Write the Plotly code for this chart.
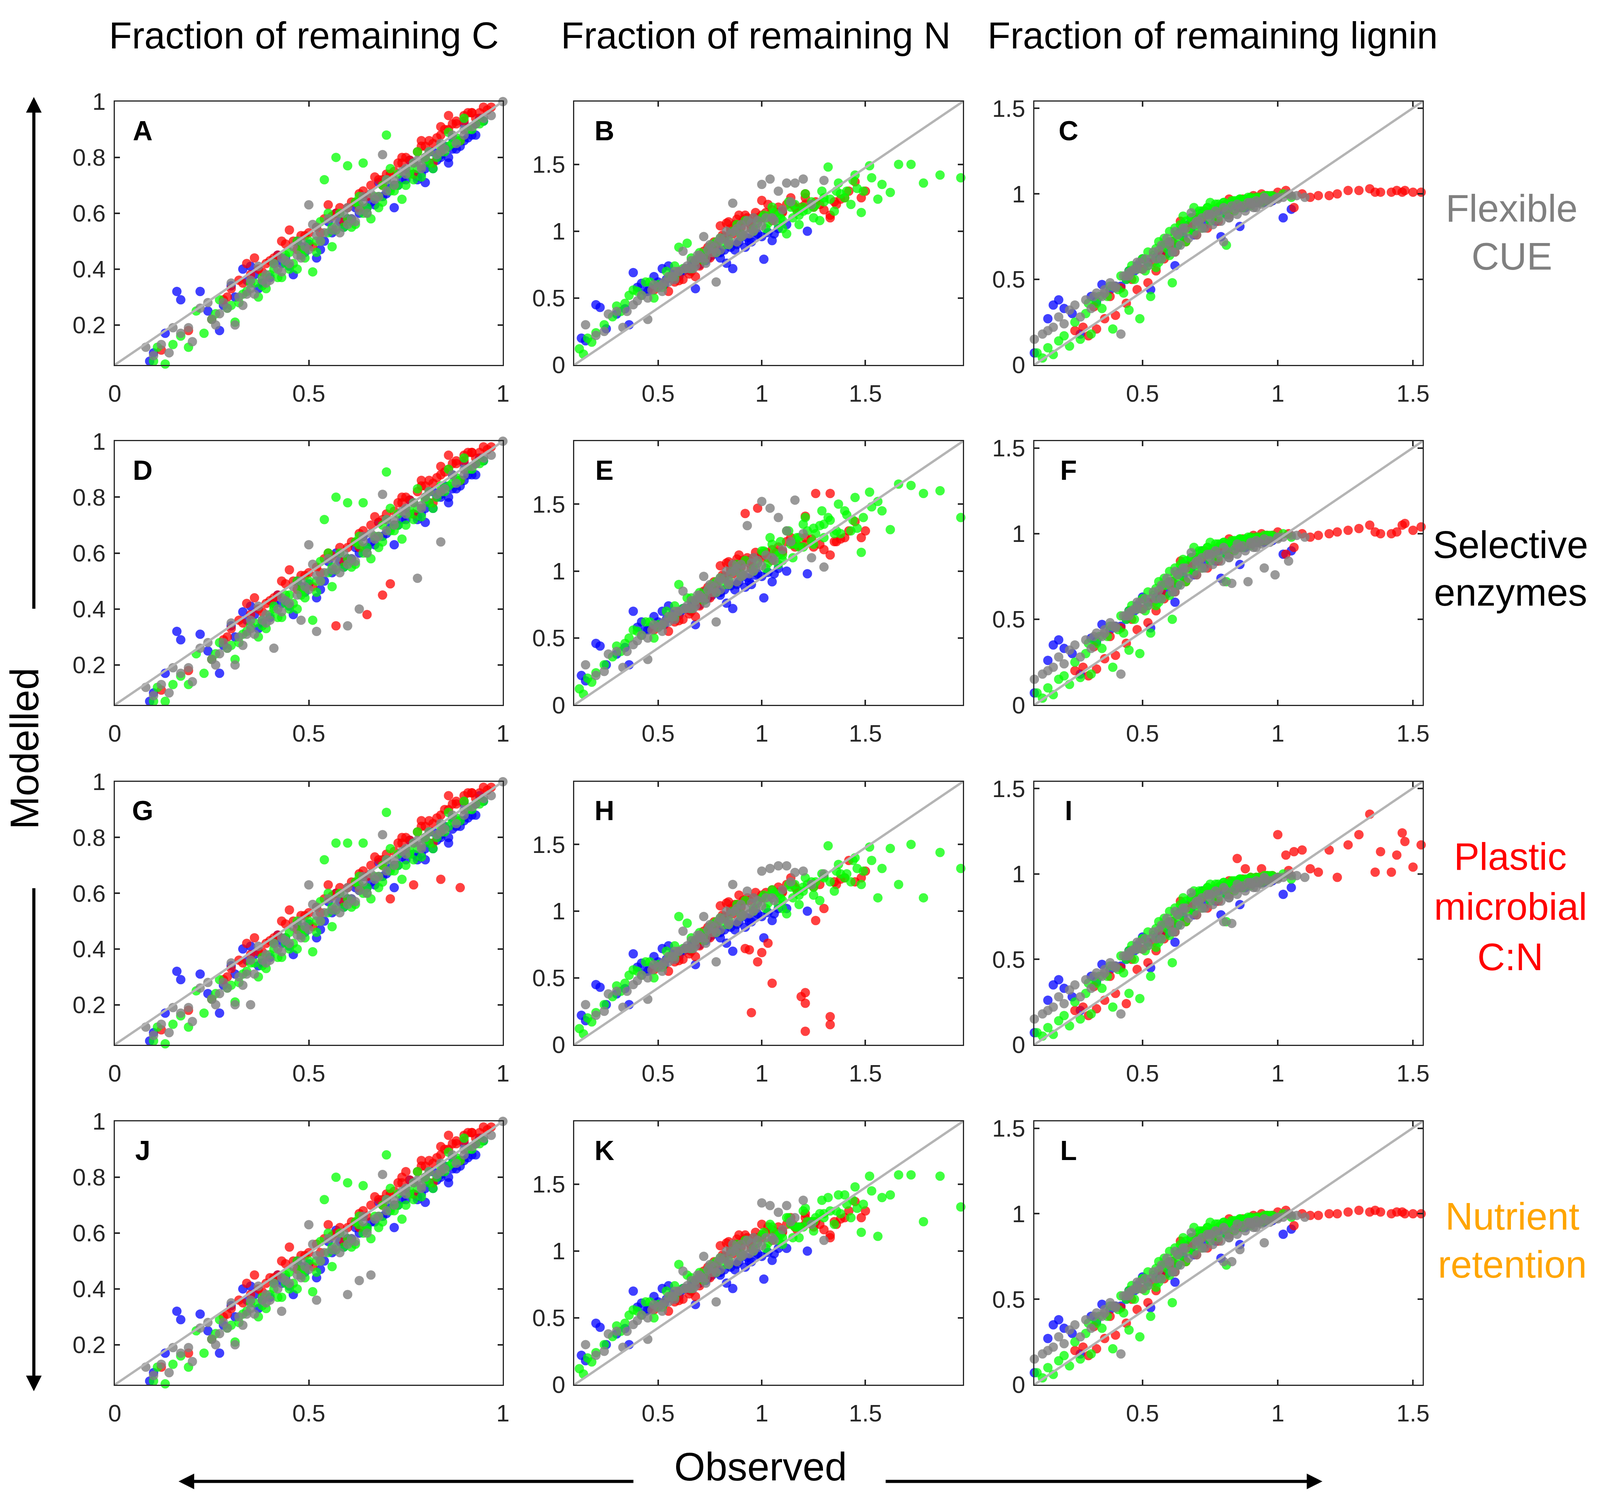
import plotly.graph_objects as go

# ================= DATA =================
# Column 1: fraction of remaining C  (observed x shared by panels A, D, G, J)
obsC_blue = [.09,.10,.13,.16,.17,.22,.24,.27,.30,.33,.35,.37,.40,.42,.44,.46,.48,.50,.52,.55,.57,.59,.62,.64,.66,.68,.70,.72,.74,.76,.78,.80,.82,.84,.86,.87,.89,.90,.92,.94,
             .28,.31,.34,.38,.41,.45,.47,.53,.56,.60,.63,.67,.71,.75,.79,.81,.83,.85,.88,.91,
             .58,.65,.72,.77,.80,.84,.87,.90,.93,.95]
modA_blue = [.07,.10,.17,.32,.29,.32,.25,.18,.34,.40,.41,.33,.37,.45,.44,.38,.48,.49,.44,.57,.60,.55,.62,.66,.64,.71,.67,.62,.72,.79,.73,.71,.82,.81,.78,.87,.86,.92,.88,.94,
             .27,.30,.36,.35,.43,.41,.50,.47,.53,.58,.60,.63,.69,.72,.74,.78,.79,.84,.83,.87,
             .57,.62,.70,.74,.76,.80,.83,.86,.92,.93]
modD_blue = [.07,.10,.17,.32,.29,.31,.25,.17,.34,.39,.41,.33,.37,.45,.43,.38,.48,.49,.44,.57,.60,.55,.62,.66,.64,.71,.67,.63,.72,.79,.73,.71,.82,.81,.78,.88,.86,.92,.88,.94,
             .27,.30,.36,.35,.42,.41,.50,.47,.53,.58,.60,.63,.69,.72,.74,.78,.80,.84,.83,.88,
             .57,.62,.70,.74,.76,.80,.83,.86,.92,.93]
modG_blue = [.07,.10,.17,.32,.29,.31,.24,.17,.34,.40,.41,.34,.37,.45,.44,.38,.47,.49,.44,.57,.60,.55,.62,.66,.64,.71,.67,.62,.73,.79,.73,.72,.82,.81,.78,.87,.86,.92,.88,.95,
             .27,.31,.36,.35,.43,.41,.49,.47,.53,.58,.61,.63,.69,.72,.74,.78,.79,.84,.84,.87,
             .57,.62,.70,.74,.76,.80,.83,.86,.92,.93]
modJ_blue = [.07,.10,.17,.32,.29,.31,.25,.17,.34,.40,.41,.33,.37,.45,.44,.38,.48,.49,.44,.57,.61,.55,.62,.66,.64,.71,.67,.62,.72,.79,.73,.71,.82,.81,.78,.87,.86,.92,.88,.94,
             .27,.30,.36,.36,.43,.41,.50,.47,.53,.58,.60,.64,.69,.72,.74,.78,.79,.84,.83,.87,
             .57,.62,.70,.74,.76,.80,.83,.86,.92,.93]

obsC_red = [.12,.19,.25,.28,.30,.32,.34,.36,.38,.40,.42,.43,.45,.47,.49,.51,.53,.55,.57,.59,.61,.63,.65,.67,.69,.71,.73,.75,.77,.79,.80,.82,.84,.86,.88,.89,.91,.93,.95,.97,
            .29,.33,.37,.41,.44,.48,.52,.56,.60,.64,.68,.72,.76,.78,.81,.83,.85,.87,.90,.92,
            .50,.58,.62,.66,.70,.74,.82,.86,.90,.94]
modA_red = [.11,.18,.22,.29,.33,.36,.42,.44,.39,.43,.45,.50,.54,.47,.52,.48,.53,.63,.60,.57,.64,.62,.66,.73,.70,.74,.78,.80,.74,.86,.84,.78,.91,.95,.92,.86,.96,.94,.98,.98,
            .30,.35,.40,.44,.49,.52,.55,.59,.62,.68,.72,.75,.79,.82,.86,.87,.90,.92,.95,.96,
            .53,.62,.64,.70,.74,.78,.85,.90,.93,.96]
modD_red = [.11,.18,.22,.29,.33,.36,.42,.44,.39,.43,.45,.50,.54,.47,.52,.48,.53,.60,.34,.57,.64,.62,.38,.73,.45,.49,.78,.80,.74,.86,.84,.78,.91,.95,.92,.86,.96,.94,.98,.98,
            .30,.35,.40,.44,.49,.52,.55,.59,.62,.68,.71,.75,.79,.82,.86,.87,.89,.92,.95,.96,
            .53,.62,.64,.70,.74,.78,.85,.90,.93,.96]
modG_red = [.11,.18,.22,.29,.33,.36,.42,.44,.39,.43,.45,.50,.54,.47,.52,.48,.53,.63,.60,.57,.64,.62,.66,.73,.70,.58,.78,.80,.63,.86,.84,.78,.65,.95,.92,.62,.96,.94,.98,.98,
            .30,.35,.39,.44,.49,.52,.55,.59,.62,.68,.72,.75,.79,.82,.86,.87,.90,.92,.95,.96,
            .53,.62,.64,.70,.74,.78,.85,.90,.93,.96]
modJ_red = [.12,.17,.22,.30,.33,.36,.42,.45,.39,.44,.45,.50,.55,.47,.52,.48,.53,.63,.60,.57,.64,.62,.66,.73,.70,.74,.78,.82,.74,.86,.84,.78,.91,.95,.92,.86,.96,.94,.98,.98,
            .31,.35,.40,.44,.49,.52,.56,.59,.62,.68,.72,.75,.79,.82,.86,.87,.90,.92,.95,.96,
            .53,.62,.64,.70,.74,.78,.85,.90,.93,.96]

obsC_green = [.10,.11,.13,.15,.17,.19,.21,.23,.25,.27,.29,.31,.33,.35,.37,.39,.41,.43,.45,.47,.49,.51,.53,.54,.56,.57,.59,.60,.62,.64,.66,.68,.70,.72,.74,.76,.78,.80,.82,.84,.86,.88,.90,.93,.95,
              .30,.34,.38,.42,.44,.46,.48,.50,.52,.55,.58,.61,.63,.65,.67,.69,.71,.73,.75,.77,.79,.81,.83,.87,.91,
              .36,.40,.44,.48,.52,.56,.60,.64,.68,.72,.76,.80,.84,.88,.92,.62,.70,.78,.86,.94]
modA_green = [.07,.12,.06,.13,.16,.12,.25,.17,.22,.29,.26,.21,.31,.35,.30,.33,.42,.37,.46,.40,.47,.39,.57,.72,.48,.80,.55,.77,.56,.78,.58,.62,.88,.68,.65,.75,.82,.79,.76,.84,.89,.86,.94,.92,.93,
              .27,.32,.37,.37,.45,.42,.45,.50,.46,.53,.60,.55,.63,.60,.66,.70,.68,.74,.70,.78,.73,.82,.80,.85,.90,
              .35,.38,.42,.47,.50,.55,.58,.60,.66,.70,.74,.80,.82,.87,.90,.64,.72,.76,.84,.92]
modD_green = [.07,.12,.07,.13,.16,.13,.24,.17,.22,.28,.26,.22,.31,.34,.30,.33,.41,.37,.45,.40,.47,.36,.57,.72,.48,.80,.55,.78,.56,.78,.58,.62,.89,.68,.65,.75,.83,.79,.76,.84,.90,.86,.94,.92,.93,
              .27,.32,.36,.37,.45,.42,.45,.50,.46,.53,.60,.55,.63,.60,.66,.70,.68,.74,.70,.78,.73,.82,.80,.85,.90,
              .35,.38,.42,.47,.50,.55,.58,.60,.66,.70,.74,.80,.82,.87,.90,.64,.72,.76,.84,.92]
modG_green = [.07,.12,.06,.13,.16,.12,.25,.17,.22,.29,.26,.21,.31,.35,.30,.33,.42,.37,.46,.40,.47,.39,.57,.72,.48,.78,.55,.78,.56,.78,.58,.62,.89,.68,.65,.75,.82,.79,.76,.84,.89,.86,.93,.92,.93,
              .27,.32,.37,.37,.44,.42,.45,.50,.46,.53,.60,.55,.63,.60,.66,.70,.68,.74,.70,.78,.73,.82,.80,.86,.90,
              .35,.38,.42,.47,.50,.55,.58,.60,.66,.70,.74,.80,.82,.87,.90,.64,.72,.76,.84,.92]
modJ_green = [.07,.12,.06,.13,.16,.12,.25,.17,.22,.29,.26,.21,.31,.35,.30,.33,.42,.37,.46,.40,.47,.39,.57,.72,.48,.80,.55,.78,.56,.77,.58,.62,.88,.68,.65,.75,.82,.79,.76,.84,.89,.86,.94,.92,.93,
              .27,.32,.37,.37,.45,.42,.45,.50,.46,.53,.60,.55,.63,.61,.66,.70,.68,.74,.70,.78,.73,.82,.80,.85,.90,
              .35,.38,.42,.47,.50,.55,.58,.60,.66,.70,.74,.80,.82,.87,.90,.64,.72,.76,.84,.92]

obsC_gray = [.08,.10,.12,.14,.15,.17,.19,.20,.22,.24,.26,.28,.30,.31,.33,.35,.37,.39,.41,.43,.46,.48,.50,.52,.55,.58,.60,.63,.66,.69,.72,.75,.78,.81,.84,.87,.90,.92,.95,1.0,
             .27,.32,.36,.40,.42,.44,.47,.49,.51,.54,.57,.59,.61,.64,.67,.70,.74,.77,.80,.83,
             .25,.29,.34,.38,.45,.50,.53,.56,.62,.65,.68,.72,.79,.85,.90]
modA_gray = [.12,.09,.13,.10,.19,.17,.19,.14,.26,.28,.20,.28,.35,.20,.27,.33,.41,.38,.42,.39,.48,.44,.63,.55,.58,.53,.62,.61,.67,.81,.72,.76,.79,.82,.85,.88,.90,.91,.94,1.0,
             .24,.30,.31,.36,.40,.43,.45,.48,.56,.53,.55,.60,.58,.64,.65,.72,.75,.78,.80,.81,
             .22,.26,.31,.36,.42,.47,.50,.54,.57,.60,.66,.70,.77,.83,.88]
modD_gray = [.12,.09,.13,.10,.19,.17,.19,.14,.26,.28,.20,.28,.35,.20,.27,.33,.41,.38,.26,.39,.48,.36,.63,.32,.58,.53,.34,.40,.67,.81,.72,.76,.51,.82,.64,.88,.90,.91,.94,1.0,
             .24,.30,.31,.36,.40,.43,.45,.48,.56,.53,.55,.60,.58,.64,.65,.72,.75,.78,.80,.81,
             .22,.26,.31,.36,.42,.47,.50,.54,.57,.60,.66,.70,.77,.83,.88]
modG_gray = [.12,.09,.13,.10,.19,.17,.19,.14,.26,.28,.20,.28,.35,.20,.27,.20,.41,.38,.42,.39,.48,.44,.63,.55,.58,.53,.62,.61,.67,.81,.72,.76,.79,.82,.85,.88,.90,.91,.94,1.0,
             .24,.30,.31,.36,.40,.43,.45,.48,.56,.53,.55,.60,.58,.64,.65,.72,.75,.78,.80,.81,
             .22,.26,.31,.36,.42,.47,.50,.54,.57,.60,.66,.70,.77,.83,.88]
modJ_gray = [.12,.09,.13,.10,.19,.17,.19,.14,.26,.28,.20,.28,.35,.20,.27,.33,.41,.38,.42,.32,.48,.44,.63,.36,.58,.53,.38,.43,.45,.81,.72,.76,.79,.82,.85,.88,.90,.91,.94,1.0,
             .24,.30,.31,.36,.40,.43,.45,.48,.56,.53,.55,.60,.58,.64,.65,.72,.75,.78,.80,.81,
             .22,.26,.31,.36,.42,.47,.50,.54,.57,.60,.66,.70,.77,.83,.88]

# dense-core points of column 1 that read the same in all four rows
coreC_blue_x = [.36,.43,.49,.54,.61,.69,.73,.78,.82,.86,.89,.93]
coreC_blue_y = [.38,.42,.46,.50,.58,.66,.70,.72,.76,.80,.84,.88]
coreC_red_x = [.35,.39,.46,.54,.63,.69,.74,.79,.84,.88,.92,.96]
coreC_red_y = [.38,.42,.50,.58,.67,.72,.80,.84,.88,.93,.96,.97]
coreC_green_x = [.26,.32,.38,.41,.45,.49,.53,.57,.61,.65,.69,.73,.77,.81,.85,.89,.47,.55,.63,.71]
coreC_green_y = [.24,.28,.34,.40,.40,.44,.50,.54,.57,.62,.64,.70,.72,.78,.82,.86,.50,.60,.66,.76]
coreC_gray_x = [.35,.39,.43,.48,.52,.57,.60,.64,.70,.75,.79,.84,.88,.93,.97]
coreC_gray_y = [.36,.35,.44,.50,.52,.58,.56,.66,.68,.74,.76,.82,.85,.92,.95]

# Column 2: fraction of remaining N  (observed x shared by panels B, E, H, K)
obsN_blue = [.13,.15,.20,.22,.25,.36,.38,.40,.42,.45,.48,.52,.55,.58,.62,.65,.68,.70,.72,.75,.78,.80,.83,.86,.88,.92,.95,.98,1.01,1.05,1.12,1.22,
             .30,.34,.44,.50,.53,.57,.60,.63,.66,.69,.73,.76,.79,.82,.85,.89,.93,.97,1.03,1.08]
modB_blue = [.20,.18,.45,.43,.27,.30,.69,.58,.61,.55,.66,.72,.74,.64,.70,.71,.57,.75,.82,.86,.88,.80,.76,.72,.90,.88,.92,.98,.79,.93,1.05,1.00,
             .38,.42,.55,.62,.60,.68,.66,.72,.74,.78,.78,.82,.84,.86,.88,.92,.95,.97,.99,1.02]
modE_blue = [.22,.18,.46,.44,.30,.30,.70,.58,.62,.56,.66,.70,.74,.64,.72,.71,.60,.75,.84,.86,.88,.82,.76,.72,.90,.88,.90,.98,.80,.92,1.00,.98,
             .38,.43,.56,.62,.60,.68,.67,.72,.74,.78,.79,.82,.84,.86,.89,.92,.95,.97,.99,1.02]
modH_blue = [.22,.18,.45,.43,.30,.30,.68,.58,.61,.55,.66,.72,.74,.64,.70,.71,.60,.75,.82,.86,.88,.80,.76,.70,.90,.88,.92,.98,.80,.93,1.02,1.00,
             .38,.42,.55,.62,.60,.68,.66,.72,.74,.78,.78,.82,.84,.86,.88,.92,.95,.96,.99,1.02]
modK_blue = [.22,.18,.46,.43,.30,.30,.70,.58,.61,.56,.66,.72,.74,.64,.72,.71,.60,.76,.82,.86,.88,.82,.76,.72,.90,.88,.92,.98,.79,.93,1.02,1.00,
             .38,.42,.55,.62,.61,.68,.66,.72,.74,.78,.78,.82,.84,.86,.88,.92,.95,.97,.99,1.02]

obsN_red = [.48,.55,.58,.62,.65,.68,.70,.72,.75,.78,.80,.82,.84,.86,.88,.90,.92,.94,.95,.98,1.00,1.03,1.05,1.10,1.14,1.19,1.21,1.26,1.30,1.33,1.33,1.42,1.45,1.48,1.50,
            .60,.66,.71,.74,.77,.81,.83,.85,.87,.89,.91,.93,.97,1.02,1.08,1.12,1.17,1.24,1.36,1.40,
            .85,.88,.92,.96,1.00,1.05,1.10,1.15,1.25,1.35,1.21,1.21]
modB_red = [.56,.55,.62,.64,.68,.66,.78,.85,.80,.90,1.04,.95,1.07,.98,1.09,1.03,1.12,1.06,1.02,1.10,1.23,1.20,1.08,1.15,1.25,1.18,1.28,1.22,1.16,1.10,1.12,1.30,1.37,1.25,1.30,
            .63,.70,.80,.88,.92,.97,1.06,1.02,1.05,1.12,1.08,1.10,1.14,1.14,1.18,1.20,1.16,1.20,1.20,1.25,
            1.00,1.05,1.08,1.10,1.12,1.16,1.14,1.20,1.18,1.22,1.20,1.25]
modE_red = [.56,.55,.62,.64,.68,.66,.78,.85,.80,.90,1.04,.95,1.07,.98,1.09,1.03,1.43,1.06,1.02,1.47,1.13,1.10,1.08,1.15,1.25,1.18,1.41,1.58,1.16,1.58,1.12,1.30,1.37,1.25,1.30,
            .63,.70,.80,.88,.92,.97,1.06,1.02,1.05,1.12,1.08,1.10,1.14,1.14,1.18,1.22,1.20,1.24,1.22,1.25,
            1.00,1.05,1.08,1.10,1.12,1.16,1.14,1.20,1.18,1.22,1.20,1.25]
modH_red = [.56,.55,.62,.64,.68,.66,.78,.85,.80,.90,1.04,.95,1.07,.98,1.05,1.03,.72,.71,.24,.62,.69,.76,.46,1.15,1.25,.36,.10,.93,1.02,.21,.15,1.38,1.22,1.25,1.30,
            .63,.70,.80,.88,.92,.97,1.06,1.02,1.05,1.12,1.08,1.10,1.14,1.14,1.18,1.20,1.16,1.20,1.20,1.25,
            1.00,1.05,1.08,1.10,1.12,1.16,1.14,1.20,1.18,1.22,.39,.31]
modK_red = [.56,.55,.62,.64,.68,.66,.78,.85,.80,.90,1.04,.95,1.07,.98,1.09,1.03,1.12,1.06,1.02,1.10,1.20,1.18,1.08,1.15,1.25,1.18,1.28,1.22,1.16,1.10,1.12,1.30,1.37,1.25,1.30,
            .63,.70,.80,.88,.92,.97,1.06,1.02,1.05,1.12,1.08,1.10,1.14,1.14,1.18,1.20,1.16,1.22,1.20,1.25,
            1.00,1.05,1.08,1.10,1.12,1.16,1.14,1.20,1.18,1.22,1.20,1.25]

obsN_green = [.12,.14,.16,.18,.20,.24,.28,.32,.36,.40,.44,.48,.52,.56,.60,.64,.68,.72,.76,.80,.84,.88,.92,.96,1.00,1.04,1.08,1.12,1.16,1.20,1.24,1.28,1.32,1.36,1.40,1.44,1.48,1.52,1.56,1.62,1.66,1.72,1.78,1.86,1.96,
              .30,.34,.38,.42,.46,.50,.54,.58,.62,.66,.70,.74,.78,.82,.86,.90,.98,1.02,1.06,1.10,1.14,1.18,1.22,1.26,1.30,
              1.01,1.05,1.09,1.13,1.17,1.21,1.25,1.29,1.33,1.37,1.41,1.45,1.49,1.53,1.58,1.25,1.35,1.43,1.18,1.10]
modB_green = [.12,.08,.20,.17,.24,.30,.36,.40,.52,.55,.62,.50,.58,.66,.88,.91,.78,.82,.90,.95,.93,1.05,1.08,1.00,1.10,1.12,1.05,.98,1.20,1.15,1.22,1.08,1.48,1.30,1.25,1.38,1.14,1.49,1.24,1.29,1.50,1.50,1.36,1.42,1.40,
              .44,.46,.56,.52,.62,.60,.70,.74,.72,.80,.84,.86,.92,.90,1.00,.98,1.06,1.02,1.14,1.08,1.18,1.12,1.16,1.20,1.22,
              1.12,1.18,1.10,1.22,1.15,1.28,1.18,1.30,1.24,1.36,1.30,1.42,1.30,1.40,1.35,1.10,1.15,1.20,1.05,1.02]
modE_green = [.12,.08,.20,.17,.24,.30,.36,.40,.50,.55,.62,.50,.60,.66,.90,.80,.78,.82,.90,.95,.93,1.05,1.08,1.00,1.15,1.25,1.05,1.30,1.20,1.35,1.22,1.34,1.40,1.30,1.45,1.38,1.14,1.59,1.52,1.31,1.65,1.64,1.58,1.60,1.40,
              .44,.46,.56,.52,.62,.60,.70,.74,.72,.80,.84,.86,.92,.90,1.00,.98,1.06,1.02,1.14,1.08,1.20,1.25,1.30,1.28,1.35,
              1.15,1.20,1.22,1.30,1.25,1.40,1.32,1.45,1.38,1.50,1.42,1.55,1.40,1.48,1.45,1.20,1.28,1.30,1.18,1.12]
modH_green = [.12,.08,.20,.17,.24,.30,.36,.40,.52,.55,.62,.50,.58,.66,.96,.91,.78,.82,.90,.95,.93,1.05,1.08,1.00,1.10,1.12,1.05,.98,1.20,1.15,1.22,1.08,1.49,1.30,1.25,1.38,1.20,1.48,1.10,1.47,1.20,1.50,1.10,1.44,1.32,
              .44,.46,.56,.52,.62,.60,.70,.74,.72,.80,.84,.86,.92,.90,1.00,.98,1.06,1.02,1.14,1.08,1.18,1.12,1.20,1.22,1.26,
              1.12,1.16,1.10,1.20,1.15,1.25,1.18,1.28,1.22,1.35,1.28,1.40,1.30,1.38,1.32,1.12,1.15,1.22,1.05,1.02]
modK_green = [.12,.08,.20,.17,.24,.30,.36,.40,.52,.55,.62,.50,.58,.66,.90,.82,.78,.82,.90,.95,.93,1.05,1.08,1.00,1.12,1.20,1.08,1.25,1.18,1.30,1.22,1.28,1.40,1.30,1.42,1.38,1.14,1.56,1.11,1.42,1.57,1.57,1.22,1.56,1.33,
              .44,.46,.56,.52,.62,.60,.70,.74,.72,.80,.84,.86,.92,.90,1.00,.98,1.06,1.02,1.14,1.10,1.20,1.18,1.22,1.25,1.28,
              1.14,1.18,1.12,1.25,1.18,1.32,1.22,1.38,1.30,1.42,1.35,1.48,1.35,1.45,1.40,1.15,1.20,1.25,1.10,1.05]

obsN_gray = [.15,.20,.24,.26,.30,.33,.38,.42,.45,.48,.52,.55,.58,.62,.65,.68,.70,.72,.75,.78,.80,.83,.86,.88,.90,.93,.96,1.00,1.04,1.08,1.12,1.16,1.20,1.24,1.30,
             .35,.40,.47,.50,.53,.57,.60,.63,.66,.69,.71,.74,.77,.79,.82,.85,.87,.92,.95,.98,1.02,1.10,
             .55,.60,.64,.67,.70,.73,.76,.80,.84,.88,.91,.94,.97,1.00,1.06]
modB_gray = [.30,.22,.25,.38,.40,.28,.45,.52,.34,.60,.55,.62,.70,.85,.72,.78,.82,.96,.90,.62,.95,1.00,1.21,1.02,1.05,1.08,1.10,1.35,1.39,1.30,1.36,1.36,1.39,1.20,1.38,
             .40,.48,.56,.58,.62,.66,.70,.72,.78,.82,.80,.86,.88,.92,.94,.98,1.00,1.02,1.06,1.08,1.10,1.16,
             .66,.70,.74,.72,.80,.76,.84,.86,.90,.92,.97,.98,1.02,1.04,1.08]
modE_gray = [.30,.22,.25,.38,.40,.28,.45,.52,.34,.60,.55,.62,.70,.85,.72,.78,.82,.96,.90,.62,.95,1.00,1.05,1.02,1.05,1.34,1.10,1.52,1.47,1.40,1.30,1.53,1.28,1.10,1.03,
             .40,.48,.56,.58,.62,.66,.70,.72,.78,.82,.80,.86,.88,.92,.94,.98,1.00,1.02,1.06,1.08,1.12,1.16,
             .66,.70,.74,.72,.80,.76,.84,.86,.90,.92,.97,.98,1.02,1.04,1.08]
modH_gray = [.30,.22,.25,.38,.40,.28,.45,.52,.34,.60,.55,.62,.70,.85,.72,.78,.82,.96,.90,.62,.95,1.00,1.20,1.02,1.05,1.15,1.10,1.30,1.32,1.34,1.34,1.29,1.30,1.20,1.28,
             .40,.48,.56,.58,.62,.66,.70,.72,.78,.82,.80,.86,.88,.92,.94,.98,1.00,1.02,1.06,1.08,1.10,1.16,
             .66,.70,.74,.72,.80,.76,.84,.86,.90,.92,.97,.98,1.02,1.04,1.08]
modK_gray = [.30,.22,.25,.38,.40,.28,.45,.52,.34,.60,.55,.62,.70,.85,.72,.78,.82,.96,.90,.62,.95,1.00,1.05,1.02,1.05,1.08,1.10,1.36,1.34,1.29,1.34,1.25,1.38,1.20,1.08,
             .40,.48,.56,.58,.62,.66,.70,.72,.78,.82,.80,.86,.88,.92,.94,.98,1.00,1.02,1.06,1.08,1.10,1.16,
             .66,.70,.74,.72,.80,.76,.84,.86,.90,.92,.97,.98,1.02,1.04,1.08]

# dense-core points of column 2 that read the same in all four rows
coreN_blue_x = [.46,.54,.61,.67,.74,.80,.87,.94,1.00,1.06]
coreN_blue_y = [.58,.64,.70,.76,.80,.84,.86,.92,.96,.98]
coreN_red_x = [.70,.76,.82,.88,.94,1.00,1.07,1.16,1.28,1.38]
coreN_red_y = [.74,.84,.96,1.02,1.08,1.10,1.14,1.18,1.20,1.24]
coreN_green_x = [.50,.58,.66,.72,.78,.84,.90,.96,1.03,1.08,1.15,1.20,1.30,1.38,1.46]
coreN_green_y = [.58,.66,.72,.78,.84,.90,.96,1.02,1.06,1.12,1.10,1.18,1.25,1.28,1.32]
coreN_gray_x = [.45,.52,.58,.63,.68,.73,.78,.84,.90,.96,1.05,1.14]
coreN_gray_y = [.50,.60,.64,.72,.74,.80,.84,.92,.96,1.00,1.10,1.22]

# Column 3: fraction of remaining lignin  (observed x shared by panels C, F, I, L)
obsLig_blue = [.10,.15,.17,.19,.21,.24,.27,.31,.35,.38,.42,.45,.48,.50,.53,.56,.59,.62,.65,.68,.72,.76,.79,.82,.86,.90,.94,.98,1.02,1.05,
               .33,.40,.44,.47,.52,.55,.58,.61,.64,.67,.70,.74,.78,.84,.92]
modC_blue = [.07,.27,.35,.38,.33,.30,.18,.40,.47,.44,.46,.55,.58,.62,.44,.62,.65,.58,.75,.80,.89,.88,.75,.92,.81,.94,.96,.96,.86,.91,
             .37,.46,.50,.55,.60,.63,.70,.72,.78,.82,.85,.88,.90,.93,.95]
modF_blue = [.07,.26,.35,.38,.33,.30,.18,.39,.47,.44,.46,.55,.58,.63,.45,.62,.65,.60,.75,.80,.90,.88,.74,.92,.82,.94,.96,.96,.88,.90,
             .37,.46,.50,.55,.60,.63,.70,.72,.78,.82,.85,.88,.90,.93,.95]
modI_blue = [.07,.26,.35,.38,.33,.28,.20,.40,.47,.44,.46,.55,.58,.63,.45,.62,.65,.60,.75,.80,.90,.88,.76,.92,.82,.94,.95,.96,.88,.92,
             .37,.46,.50,.55,.60,.63,.70,.72,.78,.82,.85,.88,.90,.92,.95]
modL_blue = [.07,.27,.35,.38,.33,.30,.18,.40,.47,.44,.46,.55,.58,.63,.45,.62,.65,.60,.75,.80,.89,.88,.74,.92,.82,.94,.96,.96,.88,.91,
             .37,.46,.50,.55,.60,.63,.70,.72,.78,.82,.85,.88,.90,.93,.95]

obsLig_red = [.25,.28,.30,.33,.36,.40,.44,.48,.52,.55,.58,.61,.64,.67,.70,.73,.76,.79,.82,.85,.88,.91,.94,.97,1.00,1.03,1.06,1.09,1.12,1.15,1.19,1.22,1.26,1.30,1.34,1.36,1.38,1.42,1.44,1.46,1.47,1.50,1.53,
              .32,.38,.42,.46,.50,.54,.57,.60,.63,.66,.69,.72,.75,.78,.81,.84,.87,.90,.93,.96,
              .60,.68,.74,.80,.86,.92,.98,1.04]
modC_red = [.20,.22,.17,.21,.27,.29,.36,.44,.48,.55,.62,.72,.84,.80,.86,.90,.88,.93,.97,.94,.96,.99,1.00,.97,1.01,1.02,.92,1.00,.98,.99,.99,1.00,1.02,1.02,1.03,1.01,1.01,1.01,1.02,1.01,1.02,1.01,1.01,
            .34,.40,.45,.50,.56,.60,.66,.70,.76,.80,.84,.86,.89,.92,.94,.95,.97,.98,.98,.99,
            .70,.82,.88,.93,.96,.98,.99,1.00]
modF_red = [.20,.22,.17,.21,.27,.29,.36,.44,.48,.55,.62,.72,.84,.80,.86,.90,.88,.93,.97,.94,.96,.99,1.00,.97,1.01,.88,.92,1.00,.98,.99,1.00,1.01,1.02,1.03,1.05,1.01,1.00,1.00,1.01,1.05,1.06,1.02,1.04,
            .34,.40,.45,.50,.56,.60,.66,.70,.76,.80,.84,.86,.89,.92,.94,.95,.97,.98,.98,.99,
            .70,.82,.88,.93,.96,.98,.99,1.00]
modI_red = [.20,.22,.17,.21,.26,.30,.24,.44,.48,.55,.62,.72,.84,.80,.86,.90,.88,.93,.96,1.09,1.03,.96,1.03,.97,1.23,1.11,1.13,1.14,1.03,1.01,1.14,.98,1.17,1.23,1.35,1.01,1.13,1.01,1.11,1.24,1.19,1.04,1.17,
            .34,.40,.45,.50,.56,.60,.66,.70,.76,.80,.84,.86,.89,.92,.94,.95,.97,.98,.98,.99,
            .70,.82,.88,.93,.96,.98,.99,1.02]
modL_red = [.20,.22,.17,.21,.27,.29,.36,.44,.48,.55,.62,.72,.84,.80,.86,.90,.88,.93,.97,.94,.96,.99,1.00,.97,1.01,1.02,.93,1.00,.99,.99,1.00,1.00,1.01,1.02,1.01,1.02,1.01,1.00,1.01,1.01,1.00,1.00,1.00,
            .34,.40,.45,.50,.56,.60,.66,.70,.76,.80,.84,.86,.89,.92,.94,.95,.97,.98,.98,.99,
            .70,.82,.88,.93,.96,.98,.99,1.00]

obsLig_green = [.11,.13,.15,.17,.19,.21,.23,.25,.27,.29,.31,.33,.35,.37,.39,.41,.43,.45,.47,.49,.51,.53,.55,.57,.59,.61,.63,.65,.67,.69,.71,.73,.75,.77,.79,.81,.83,.85,.87,.89,.91,.94,.97,1.00,1.05,
                .30,.34,.38,.42,.44,.46,.48,.50,.52,.54,.56,.58,.60,.62,.64,.66,.68,.70,.72,.74,.76,.78,.80,.82,.84,.86,.88,.90,.93,.96,
                .45,.50,.55,.58,.62,.65,.68,.71,.74,.77,.80,.83,.86,.89,.92,.95,.98,1.02,.60,.52]
modC_green = [.07,.04,.10,.06,.14,.17,.11,.25,.15,.30,.18,.36,.33,.40,.21,.44,.42,.32,.50,.27,.55,.40,.57,.62,.68,.48,.74,.87,.78,.92,.85,.88,.95,.90,.93,.70,.94,.96,.92,.98,.97,.95,.99,.98,.98,
              .36,.40,.46,.52,.50,.58,.56,.62,.66,.64,.72,.70,.78,.76,.82,.84,.86,.88,.90,.92,.91,.94,.95,.94,.96,.97,.97,.98,.98,.99,
              .55,.62,.68,.74,.80,.82,.86,.90,.92,.94,.95,.96,.97,.97,.98,.99,.99,1.00,.72,.58]
modF_green = [.07,.04,.10,.06,.15,.17,.12,.25,.16,.30,.18,.36,.33,.40,.22,.44,.42,.32,.50,.30,.55,.42,.58,.62,.70,.50,.74,.85,.78,.92,.86,.88,.95,.90,.94,.72,.94,.96,.93,.98,.97,.96,.99,.98,.98,
              .36,.40,.46,.52,.50,.58,.56,.62,.66,.64,.72,.70,.78,.76,.82,.84,.86,.88,.90,.92,.91,.94,.95,.94,.96,.97,.97,.98,.98,.99,
              .55,.62,.68,.74,.80,.82,.86,.90,.92,.94,.95,.96,.97,.97,.98,.99,.99,1.00,.72,.58]
modI_green = [.07,.05,.10,.06,.14,.17,.11,.25,.15,.30,.18,.36,.33,.40,.22,.44,.42,.30,.50,.27,.55,.40,.57,.62,.68,.48,.74,.86,.78,.90,.85,.88,.94,.90,.93,.72,.94,.96,.92,.97,.96,.95,.99,.98,.97,
              .36,.40,.46,.52,.50,.58,.56,.62,.66,.64,.72,.70,.78,.76,.82,.84,.86,.88,.90,.92,.91,.94,.95,.94,.96,.97,.97,.98,.98,.99,
              .55,.62,.68,.74,.80,.82,.86,.90,.92,.94,.95,.96,.97,.97,.98,.99,.99,1.00,.72,.58]
modL_green = [.07,.04,.10,.06,.14,.17,.11,.25,.15,.30,.18,.36,.33,.40,.21,.44,.42,.32,.50,.28,.55,.40,.57,.62,.68,.48,.74,.86,.78,.92,.85,.88,.95,.90,.93,.70,.94,.96,.92,.98,.97,.95,.99,.98,.98,
              .36,.40,.46,.52,.50,.58,.56,.62,.66,.64,.72,.70,.78,.76,.82,.84,.86,.88,.90,.92,.91,.94,.95,.94,.96,.97,.97,.98,.98,.99,
              .55,.62,.68,.74,.80,.82,.86,.90,.92,.94,.95,.96,.97,.97,.98,.99,.99,1.00,.72,.58]

obsLig_gray = [.10,.13,.15,.17,.19,.21,.23,.25,.27,.29,.31,.33,.35,.38,.40,.42,.44,.46,.48,.50,.53,.56,.59,.62,.65,.68,.71,.74,.77,.80,.83,.86,.89,.92,.95,.99,1.04,1.10,
               .32,.36,.39,.43,.45,.47,.49,.51,.54,.57,.60,.63,.66,.69,.72,.75,.78,.81,.84,.87,.90,.93,.97,1.02,1.07,
               .55,.60,.65,.70,.75,.80,.85,.90,.95,1.00,.62,.72,.82,.92,1.05]
modC_gray = [.15,.18,.20,.22,.28,.24,.32,.35,.28,.38,.33,.42,.40,.48,.45,.18,.52,.55,.60,.56,.62,.67,.74,.78,.80,.89,.84,.88,.90,.72,.93,.92,.95,.96,.98,.97,1.00,.98,
             .40,.44,.46,.52,.54,.56,.60,.62,.66,.70,.72,.76,.80,.82,.86,.86,.88,.90,.91,.93,.94,.95,.96,.98,.99,
             .62,.70,.78,.84,.88,.92,.94,.95,.97,.98,.66,.80,.86,.92,.99]
modF_gray = [.15,.18,.20,.22,.28,.24,.32,.35,.28,.38,.33,.42,.40,.48,.45,.18,.52,.55,.60,.56,.62,.67,.74,.78,.80,.89,.84,.88,.90,.72,.71,.92,.72,.96,.80,.76,.84,.98,
             .40,.44,.46,.52,.54,.56,.60,.62,.66,.70,.72,.76,.80,.82,.86,.86,.88,.90,.91,.93,.94,.95,.96,.98,.99,
             .62,.70,.78,.84,.88,.92,.94,.95,.97,.98,.66,.80,.86,.92,.99]
modI_gray = [.15,.18,.20,.22,.28,.24,.32,.35,.28,.38,.33,.42,.40,.48,.45,.18,.52,.55,.60,.56,.62,.67,.74,.78,.80,.89,.84,.88,.90,.72,.71,.92,.95,.96,.98,.97,1.00,.98,
             .40,.44,.46,.52,.54,.56,.60,.62,.66,.70,.72,.76,.80,.82,.86,.86,.88,.90,.91,.93,.94,.95,.96,.98,.99,
             .62,.70,.78,.84,.88,.92,.94,.95,.97,.98,.66,.80,.86,.92,.99]
modL_gray = [.15,.18,.20,.22,.28,.24,.32,.35,.28,.38,.33,.42,.40,.48,.45,.18,.52,.55,.60,.56,.62,.67,.74,.78,.80,.89,.84,.88,.90,.72,.72,.79,.95,.96,.83,.97,1.00,.98,
             .40,.44,.46,.52,.54,.56,.60,.62,.66,.70,.72,.76,.80,.82,.86,.86,.88,.90,.91,.93,.94,.95,.96,.98,.99,
             .62,.70,.78,.84,.88,.92,.94,.95,.97,.98,.66,.80,.86,.92,.99]

# dense-core points of column 3 (between the diagonal and the upper curve), same in all rows
coreLig_blue_x = [.57,.63,.69,.73,.77,.81,.88,.95]
coreLig_blue_y = [.64,.70,.76,.82,.84,.88,.92,.95]
coreLig_red_x = [.62,.66,.70,.74,.78,.82,.86,.90,.95,1.00]
coreLig_red_y = [.66,.72,.76,.80,.84,.88,.92,.94,.96,.98]
coreLig_green_x = [.56,.60,.63,.66,.69,.72,.75,.78,.81,.84,.87,.90,.93,.96,.99,.58,.64,.70,.76,.82]
coreLig_green_y = [.60,.64,.70,.72,.78,.80,.84,.86,.88,.90,.92,.93,.95,.96,.98,.70,.76,.82,.88,.92]
coreLig_gray_x = [.52,.57,.61,.64,.67,.70,.73,.76,.79,.82,.85,.88,.91,.94,.97,1.00,.45,.48,.40,.36]
coreLig_gray_y = [.58,.62,.66,.70,.74,.76,.80,.82,.84,.86,.88,.90,.92,.94,.95,.97,.52,.56,.46,.42]

# axis ranges and ticks
xrange_C, yrange_C = [0, 1], [0.057, 1]
xrange_N, yrange_N = [0.096, 1.97], [0, 1.97]
xrange_Lig, yrange_Lig = [0.1, 1.535], [0, 1.54]
xticks_C, xticklabels_C = [0, 0.5, 1], ["0", "0.5", "1"]
yticks_C, yticklabels_C = [0.2, 0.4, 0.6, 0.8, 1], ["0.2", "0.4", "0.6", "0.8", "1"]
xticks_N, xticklabels_N = [0.5, 1, 1.5], ["0.5", "1", "1.5"]
yticks_N, yticklabels_N = [0, 0.5, 1, 1.5], ["0", "0.5", "1", "1.5"]
xticks_Lig, xticklabels_Lig = [0.5, 1, 1.5], ["0.5", "1", "1.5"]
yticks_Lig, yticklabels_Lig = [0, 0.5, 1, 1.5], ["0", "0.5", "1", "1.5"]

column_titles = ["Fraction of remaining C", "Fraction of remaining N", "Fraction of remaining lignin"]
panel_letters = [["A", "B", "C"], ["D", "E", "F"], ["G", "H", "I"], ["J", "K", "L"]]
row_labels = [["Flexible", "CUE"], ["Selective", "enzymes"], ["Plastic", "microbial", "C:N"], ["Nutrient", "retention"]]
row_label_colors = ["#808080", "#000000", "#FF0000", "#FFA500"]

# ================= FIGURE =================
# layout is described in the reference's pixel frame (4550 x 3857) and mapped to fractions,
# so the figure can fill whatever viewport the page is shown in
W, H = 4550, 3857
FONT = "Liberation Sans, Arial, Helvetica, sans-serif"
AXC = "#262626"
series_order = ["blue", "red", "green", "gray"]
marker_colors = {"blue": "rgba(0,0,255,0.75)", "red": "rgba(255,0,0,0.75)",
                 "green": "rgba(0,255,0,0.75)", "gray": "rgba(128,128,128,0.8)"}

columns = [
    dict(obs=dict(blue=obsC_blue, red=obsC_red, green=obsC_green, gray=obsC_gray),
         core=dict(blue=(coreC_blue_x, coreC_blue_y), red=(coreC_red_x, coreC_red_y),
                   green=(coreC_green_x, coreC_green_y), gray=(coreC_gray_x, coreC_gray_y)),
         mods=[dict(blue=modA_blue, red=modA_red, green=modA_green, gray=modA_gray),
               dict(blue=modD_blue, red=modD_red, green=modD_green, gray=modD_gray),
               dict(blue=modG_blue, red=modG_red, green=modG_green, gray=modG_gray),
               dict(blue=modJ_blue, red=modJ_red, green=modJ_green, gray=modJ_gray)],
         xr=xrange_C, yr=yrange_C, xt=(xticks_C, xticklabels_C), yt=(yticks_C, yticklabels_C)),
    dict(obs=dict(blue=obsN_blue, red=obsN_red, green=obsN_green, gray=obsN_gray),
         core=dict(blue=(coreN_blue_x, coreN_blue_y), red=(coreN_red_x, coreN_red_y),
                   green=(coreN_green_x, coreN_green_y), gray=(coreN_gray_x, coreN_gray_y)),
         mods=[dict(blue=modB_blue, red=modB_red, green=modB_green, gray=modB_gray),
               dict(blue=modE_blue, red=modE_red, green=modE_green, gray=modE_gray),
               dict(blue=modH_blue, red=modH_red, green=modH_green, gray=modH_gray),
               dict(blue=modK_blue, red=modK_red, green=modK_green, gray=modK_gray)],
         xr=xrange_N, yr=yrange_N, xt=(xticks_N, xticklabels_N), yt=(yticks_N, yticklabels_N)),
    dict(obs=dict(blue=obsLig_blue, red=obsLig_red, green=obsLig_green, gray=obsLig_gray),
         core=dict(blue=(coreLig_blue_x, coreLig_blue_y), red=(coreLig_red_x, coreLig_red_y),
                   green=(coreLig_green_x, coreLig_green_y), gray=(coreLig_gray_x, coreLig_gray_y)),
         mods=[dict(blue=modC_blue, red=modC_red, green=modC_green, gray=modC_gray),
               dict(blue=modF_blue, red=modF_red, green=modF_green, gray=modF_gray),
               dict(blue=modI_blue, red=modI_red, green=modI_green, gray=modI_gray),
               dict(blue=modL_blue, red=modL_red, green=modL_green, gray=modL_gray)],
         xr=xrange_Lig, yr=yrange_Lig, xt=(xticks_Lig, xticklabels_Lig), yt=(yticks_Lig, yticklabels_Lig)),
]

# panel boxes in reference pixels
col_left = [310, 1628, 2947]
col_right = [1423, 2742, 4060]
row_top = [230, 1115, 2002, 2887]
row_bot = [916, 1802, 2687, 3573]
letter_dx = [80, 86, 98]
letter_dy = 76


def fx(p):
    return p / W


def fy(p):
    return 1 - p / H


fig = go.Figure()
layout_axes = {}
annotations = []

for r in range(4):
    for c in range(3):
        k = r * 3 + c + 1
        xa = "x" if k == 1 else f"x{k}"
        ya = "y" if k == 1 else f"y{k}"
        col = columns[c]
        for s in series_order:
            xs = col["obs"][s]
            ys = col["mods"][r][s]
            cx, cy = col["core"][s]
            assert len(xs) == len(ys), (r, c, s, len(xs), len(ys))
            assert len(cx) == len(cy), (c, s, len(cx), len(cy))
            fig.add_trace(go.Scatter(x=list(cx) + list(xs), y=list(cy) + list(ys), mode="markers",
                                     xaxis=xa, yaxis=ya,
                                     marker=dict(size=24, color=marker_colors[s], line=dict(width=0)),
                                     cliponaxis=False, hoverinfo="skip"))
        # diagonal from corner to corner of the axes box
        fig.add_trace(go.Scatter(x=col["xr"], y=col["yr"], mode="lines", xaxis=xa, yaxis=ya,
                                 line=dict(color="#b4b4b4", width=6), hoverinfo="skip"))
        common = dict(showline=True, linecolor=AXC, linewidth=3, mirror="ticks", ticks="inside",
                      ticklen=13, tickwidth=4, tickcolor=AXC, showgrid=False, zeroline=False,
                      tickfont=dict(family=FONT, size=61, color=AXC), fixedrange=True)
        layout_axes["xaxis" if k == 1 else f"xaxis{k}"] = dict(
            common, domain=[fx(col_left[c]), fx(col_right[c])], range=col["xr"],
            tickvals=col["xt"][0], ticktext=col["xt"][1], anchor=ya, ticklabelstandoff=18)
        layout_axes["yaxis" if k == 1 else f"yaxis{k}"] = dict(
            common, domain=[fy(row_bot[r]), fy(row_top[r])], range=col["yr"],
            tickvals=col["yt"][0], ticktext=col["yt"][1], anchor=xa, ticklabelstandoff=8)

# full-figure overlay axes in reference pixel units, used for text and arrows
layout_axes["xaxis13"] = dict(domain=[0, 1], range=[0, W], visible=False, fixedrange=True, anchor="y13")
layout_axes["yaxis13"] = dict(domain=[0, 1], range=[H, 0], visible=False, fixedrange=True, anchor="x13")
fig.add_trace(go.Scatter(x=[], y=[], xaxis="x13", yaxis="y13", hoverinfo="skip"))

P = dict(xref="x13", yref="y13", showarrow=False, xanchor="center", yanchor="middle")

for r in range(4):
    for c in range(3):
        annotations.append(dict(P, text=f"<b>{panel_letters[r][c]}</b>",
                                x=col_left[c] + letter_dx[c], y=row_top[r] + letter_dy,
                                font=dict(family=FONT, size=70, color="black")))

# column titles
for c, t in enumerate(column_titles):
    annotations.append(dict(P, text=t, x=[852, 2148, 3458][c], y=58,
                            font=dict(family=FONT, size=96, color="black")))

# row labels
row_line_y = [[508, 633], [1384, 1509], [2197, 2327, 2458], [3134, 3259]]
row_label_x = [4316, 4312, 4312, 4318]
for r in range(4):
    for line, ly in zip(row_labels[r], row_line_y[r]):
        annotations.append(dict(P, text=line, x=row_label_x[r], y=ly,
                                font=dict(family=FONT, size=98, color=row_label_colors[r])))

# axis captions
annotations.append(dict(P, text="Modelled", x=52, y=1915, textangle=-90,
                        font=dict(family=FONT, size=102, color="black")))
annotations.append(dict(P, text="Observed", x=2162, y=3787,
                        font=dict(family=FONT, size=102, color="black")))

# arrows: head at (x, y), tail at (ax, ay), in reference pixel units
A = dict(xref="x13", yref="y13", axref="x13", ayref="y13", text="", showarrow=True,
         arrowhead=2, arrowsize=1, arrowwidth=8, arrowcolor="black")
annotations.append(dict(A, x=78, y=218, ax=78, ay=1553))
annotations.append(dict(A, x=78, y=3590, ax=78, ay=2278))
annotations.append(dict(A, x=493, y=3825, ax=1799, ay=3825))
annotations.append(dict(A, x=3773, y=3825, ax=2519, ay=3825))

fig.update_layout(width=W, height=H, margin=dict(l=0, r=0, t=0, b=0),
                  paper_bgcolor="white", plot_bgcolor="rgba(0,0,0,0)", showlegend=False,
                  annotations=annotations, font=dict(family=FONT), **layout_axes)

# fill the actual browser viewport exactly (no page margin, no scrollbars)
post_js = """
(function(){
  var gd = document.getElementById('{plot_id}');
  document.documentElement.style.margin = '0';
  document.body.style.margin = '0';
  document.documentElement.style.overflow = 'hidden';
  document.body.style.overflow = 'hidden';
  var iw = window.innerWidth, ih = window.innerHeight;
  gd.style.width = iw + 'px';
  gd.style.height = ih + 'px';
  Plotly.relayout(gd, {width: iw, height: ih});
})();
"""

fig.write_html("out.html", post_script=post_js, config={"displayModeBar": False, "staticPlot": True})
